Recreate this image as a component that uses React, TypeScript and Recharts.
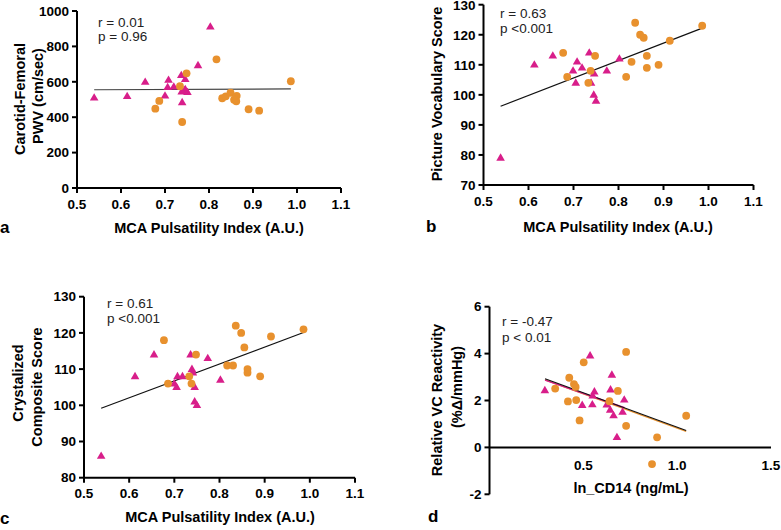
import React from 'react';
import { ScatterChart, Scatter, XAxis, YAxis, ReferenceLine } from 'recharts';

const MAGENTA = '#D81E8A';
const ORANGE = '#E8912E';
const FONT = '"Liberation Sans", Arial, Helvetica, sans-serif';

// ---------- Panel a : Carotid-Femoral PWV vs MCA PI ----------
const aTriX = [0.539, 0.614, 0.655, 0.708, 0.706, 0.72, 0.7, 0.737, 0.746, 0.738, 0.746, 0.751, 0.739, 0.775, 0.803, 0.744];
const aTriY = [510, 518, 599, 610, 569, 572, 521, 637, 614, 544, 558, 541, 484, 693, 911, 550];
const aDotX = [0.678, 0.687, 0.734, 0.749, 0.739, 0.817, 0.83, 0.838, 0.849, 0.863, 0.857, 0.862, 0.89, 0.914, 0.986];
const aDotY = [448, 492, 575, 648, 373, 727, 507, 518, 538, 521, 499, 490, 445, 437, 603];
const aFitX = [0.539, 0.986];
const aFitY = [555, 560];
const aXTicks = [0.5, 0.6, 0.7, 0.8, 0.9, 1.0, 1.1];
const aYTicks = [0, 200, 400, 600, 800, 1000];

// ---------- Panel b : Picture Vocabulary vs MCA PI ----------
const bTriX = [0.538, 0.613, 0.654, 0.708, 0.699, 0.719, 0.705, 0.735, 0.746, 0.739, 0.745, 0.75, 0.774, 0.802];
const bTriY = [79, 110, 113, 111, 108, 109, 104, 114, 107, 104, 100, 98, 108, 112];
const bDotX = [0.677, 0.686, 0.738, 0.733, 0.748, 0.817, 0.829, 0.837, 0.848, 0.856, 0.863, 0.863, 0.889, 0.914, 0.986];
const bDotY = [114, 106, 108, 104, 113, 106, 111, 124, 120, 119, 113, 109, 110, 118, 123];
const bFitX = [0.538, 0.986];
const bFitY = [96.2, 122.2];
const bYTicks = [70, 80, 90, 100, 110, 120, 130];

// ---------- Panel c : Crystalized Composite vs MCA PI ----------
const cTriX = [0.538, 0.613, 0.655, 0.707, 0.718, 0.7, 0.705, 0.736, 0.739, 0.741, 0.745, 0.745, 0.75, 0.774, 0.802];
const cTriY = [86, 108, 114, 108, 108, 106, 105, 114, 110, 109, 105, 101, 100, 113, 107];
const cDotX = [0.677, 0.686, 0.733, 0.738, 0.748, 0.817, 0.83, 0.836, 0.848, 0.855, 0.862, 0.862, 0.89, 0.914, 0.986];
const cDotY = [118, 106, 108, 106, 114, 111, 111, 122, 120, 116, 110, 109, 108, 119, 121];
const cFitX = [0.538, 0.986];
const cFitY = [99.2, 120.1];
const cYTicks = [80, 90, 100, 110, 120, 130];

// ---------- Panel d : Relative VC Reactivity vs ln_CD14 ----------
const dTriX = [0.295, 0.536, 0.494, 0.548, 0.559, 0.55, 0.625, 0.643, 0.652, 0.645, 0.661, 0.679, 0.709, 0.718];
const dTriY = [2.43, 3.91, 1.8, 1.83, 2.38, 2.2, 1.82, 1.6, 3.09, 2.46, 1.36, 0.43, 1.51, 2.03];
const dDotX = [0.35, 0.425, 0.418, 0.45, 0.459, 0.462, 0.48, 0.502, 0.639, 0.684, 0.728, 0.728, 0.893, 1.048, 0.866];
const dDotY = [2.51, 2.97, 1.96, 2.7, 2.58, 2.02, 1.15, 3.63, 1.97, 2.41, 4.07, 0.92, 0.43, 1.35, -0.71];
const dFitMagX = [0.296, 0.72];
const dFitMagY = [2.87, 1.69];
const dFitOrgX = [0.296, 1.048];
const dFitOrgY = [2.88, 0.68];
const dFitAllX = [0.296, 1.048];
const dFitAllY = [2.93, 0.72];
const dXTicks = [0.5, 1.0, 1.5];
const dYTicks = [-2, 0, 2, 4, 6];

const zip = (xs: number[], ys: number[]) => xs.map((x, i) => ({ x, y: ys[i] }));

const Tri = (p: any) => {
  const { cx, cy } = p;
  if (cx == null || cy == null) return <g />;
  return (
    <polygon
      points={`${cx},${cy - 4.6} ${cx - 4.3},${cy + 2.8} ${cx + 4.3},${cy + 2.8}`}
      fill={MAGENTA}
    />
  );
};
const Dot = (p: any) => {
  const { cx, cy } = p;
  if (cx == null || cy == null) return <g />;
  return <circle cx={cx} cy={cy} r={3.9} fill={ORANGE} />;
};

const tickStyle = { fill: '#000', fontSize: 13.5, fontWeight: 700, fontFamily: FONT };
const axisLine = { stroke: '#000', strokeWidth: 2 };

type Fit = { xs: number[]; ys: number[]; color: string; width?: number };

type PanelProps = {
  left: number;
  top: number;
  width: number;
  height: number;
  margin: { top: number; right: number; bottom: number; left: number };
  yWidth: number;
  xDomain: [number, number];
  xTicks: number[];
  yDomain: [number, number];
  yTicks: number[];
  tri: { x: number; y: number }[];
  dots: { x: number; y: number }[];
  fits: Fit[];
  zeroAxis?: boolean;
  zeroOffset?: number;
};

function Panel(props: PanelProps) {
  const { left, top, width, height, margin, yWidth, xDomain, xTicks, yDomain, yTicks, tri, dots, fits, zeroAxis, zeroOffset } = props;
  const ZeroTick = (tp: any) => (
    <text
      x={tp.x}
      y={tp.y - (zeroOffset || 0)}
      dy="0.35em"
      textAnchor="middle"
      fill="#000"
      fontSize={13.5}
      fontWeight={700}
      fontFamily={FONT}
    >
      {Number(tp.payload.value).toFixed(1)}
    </text>
  );
  return (
    <div style={{ position: 'absolute', left, top, width, height }}>
      <ScatterChart width={width} height={height} margin={margin}>
        {zeroAxis ? (
          <XAxis
            type="number"
            dataKey="x"
            domain={xDomain}
            ticks={xTicks}
            allowDataOverflow
            interval={0}
            axisLine={false}
            tickLine={false}
            tickSize={0}
            tickMargin={0}
            height={30}
            tick={ZeroTick}
          />
        ) : (
          <XAxis
            type="number"
            dataKey="x"
            domain={xDomain}
            ticks={xTicks}
            allowDataOverflow
            interval={0}
            tickFormatter={(v: number) => v.toFixed(1)}
            axisLine={axisLine}
            tickLine={axisLine}
            tickSize={5}
            tickMargin={6}
            height={30}
            tick={tickStyle}
          />
        )}
        <YAxis
          type="number"
          dataKey="y"
          domain={yDomain}
          ticks={yTicks}
          allowDataOverflow
          interval={0}
          width={yWidth}
          axisLine={axisLine}
          tickLine={axisLine}
          tickSize={5}
          tickMargin={3}
          tick={tickStyle}
        />
        {zeroAxis && <ReferenceLine y={0} stroke="#000" strokeWidth={2} />}
        <Scatter data={tri} shape={Tri} isAnimationActive={false} />
        <Scatter data={dots} shape={Dot} isAnimationActive={false} />
        {fits.map((f, i) => (
          <ReferenceLine
            key={i}
            segment={[
              { x: f.xs[0], y: f.ys[0] },
              { x: f.xs[1], y: f.ys[1] },
            ]}
            stroke={f.color}
            strokeWidth={f.width || 1.2}
            ifOverflow="visible"
          />
        ))}
      </ScatterChart>
    </div>
  );
}

const labelBold: React.CSSProperties = {
  position: 'absolute',
  fontFamily: FONT,
  fontWeight: 700,
  fontSize: 14.5,
  color: '#000',
  whiteSpace: 'nowrap',
  lineHeight: '16px',
};

const XLabel = ({ cx, cy, text }: { cx: number; cy: number; text: string }) => (
  <div style={{ ...labelBold, left: cx, top: cy, transform: 'translate(-50%, -50%)' }}>{text}</div>
);
const YLabel = ({ cx, cy, text }: { cx: number; cy: number; text: string }) => (
  <div style={{ ...labelBold, left: cx, top: cy, transform: 'translate(-50%, -50%) rotate(-90deg)' }}>{text}</div>
);
const Letter = ({ x, cy, text }: { x: number; cy: number; text: string }) => (
  <div style={{ ...labelBold, fontSize: 17, left: x, top: cy - 9, lineHeight: '18px' }}>{text}</div>
);
const Stat = ({ x, cy, text }: { x: number; cy: number; text: string }) => (
  <div
    style={{
      position: 'absolute',
      left: x,
      top: cy - 8,
      fontFamily: FONT,
      fontSize: 13.5,
      lineHeight: '16px',
      color: '#222',
      whiteSpace: 'nowrap',
    }}
  >
    {text}
  </div>
);

export default function App() {
  return (
    <div style={{ position: 'absolute', left: 0, top: 0, width: 781, height: 530, background: '#fff', overflow: 'hidden' }}>
      <Panel
        left={0}
        top={0}
        width={390}
        height={265}
        margin={{ top: 11, right: 49, bottom: 47, left: 0 }}
        yWidth={77}
        xDomain={[0.5, 1.1]}
        xTicks={aXTicks}
        yDomain={[0, 1000]}
        yTicks={aYTicks}
        tri={zip(aTriX, aTriY)}
        dots={zip(aDotX, aDotY)}
        fits={[{ xs: aFitX, ys: aFitY, color: '#444' }]}
      />
      <Panel
        left={390}
        top={0}
        width={391}
        height={265}
        margin={{ top: 4.7, right: 27.5, bottom: 50, left: 0 }}
        yWidth={93.5}
        xDomain={[0.5, 1.1]}
        xTicks={aXTicks}
        yDomain={[70, 130]}
        yTicks={bYTicks}
        tri={zip(bTriX, bTriY)}
        dots={zip(bDotX, bDotY)}
        fits={[{ xs: bFitX, ys: bFitY, color: '#111' }]}
      />
      <Panel
        left={0}
        top={265}
        width={390}
        height={265}
        margin={{ top: 31.7, right: 35, bottom: 22.3, left: 0 }}
        yWidth={84}
        xDomain={[0.5, 1.1]}
        xTicks={aXTicks}
        yDomain={[80, 130]}
        yTicks={cYTicks}
        tri={zip(cTriX, cTriY)}
        dots={zip(cDotX, cDotY)}
        fits={[{ xs: cFitX, ys: cFitY, color: '#111' }]}
      />
      <Panel
        left={390}
        top={265}
        width={391}
        height={265}
        margin={{ top: 41.7, right: 10, bottom: 5.7, left: 0 }}
        yWidth={99.5}
        xDomain={[0, 1.5]}
        xTicks={dXTicks}
        yDomain={[-2, 6]}
        yTicks={dYTicks}
        tri={zip(dTriX, dTriY)}
        dots={zip(dDotX, dDotY)}
        fits={[
          { xs: dFitOrgX, ys: dFitOrgY, color: ORANGE, width: 1.4 },
          { xs: dFitMagX, ys: dFitMagY, color: MAGENTA, width: 1.4 },
          { xs: dFitAllX, ys: dFitAllY, color: '#111', width: 1.2 },
        ]}
        zeroAxis
        zeroOffset={29.3}
      />

      {/* Panel a text */}
      <YLabel cx={20} cy={99} text="Carotid-Femoral" />
      <YLabel cx={38} cy={96} text="PWV (cm/sec)" />
      <XLabel cx={209} cy={228} text="MCA Pulsatility Index (A.U.)" />
      <Letter x={0} cy={228} text="a" />
      <Stat x={98} cy={23} text="r = 0.01" />
      <Stat x={98} cy={37} text="p = 0.96" />

      {/* Panel b text */}
      <YLabel cx={437} cy={94} text="Picture Vocabulary Score" />
      <XLabel cx={618} cy={227} text="MCA Pulsatility Index (A.U.)" />
      <Letter x={426} cy={227} text="b" />
      <Stat x={500} cy={14} text="r = 0.63" />
      <Stat x={500} cy={29} text="p <0.001" />

      {/* Panel c text */}
      <YLabel cx={18} cy={383} text="Crystalized" />
      <YLabel cx={37} cy={387} text="Composite Score" />
      <XLabel cx={220} cy={517} text="MCA Pulsatility Index (A.U.)" />
      <Letter x={0} cy={519} text="c" />
      <Stat x={107} cy={304} text="r = 0.61" />
      <Stat x={107} cy={319} text="p <0.001" />

      {/* Panel d text */}
      <YLabel cx={437} cy={400} text="Relative VC Reactivity" />
      <YLabel cx={457} cy={387} text="(%Δ/mmHg)" />
      <XLabel cx={631} cy={488} text="ln_CD14 (ng/mL)" />
      <Letter x={428} cy={517} text="d" />
      <Stat x={502} cy={322} text="r = -0.47" />
      <Stat x={502} cy={338} text="p < 0.01" />
    </div>
  );
}
